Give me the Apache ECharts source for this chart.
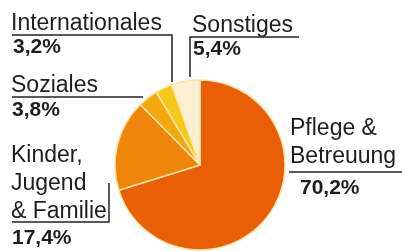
<!DOCTYPE html>
<html>
<head>
<meta charset="utf-8">
<script src="https://cdn.jsdelivr.net/npm/echarts@6/dist/echarts.min.js"></script>
<style>
html,body{margin:0;padding:0;background:#fff;}
#pie{width:402px;height:251px;}
</style>
</head>
<body>
<div id="pie"></div>
<script>
// Anteile nach Bereich (Prozent)
var names = ['Pflege &\nBetreuung', 'Kinder,\nJugend\n& Familie', 'Soziales', 'Internationales', 'Sonstiges'];
var values = [70.2, 17.4, 3.8, 3.2, 5.4];
var colors = ['#ea5f05', '#f0850b', '#f3a80e', '#f6c819', '#fdf0d2'];

// Lage der Beschriftungen (x, y = oben links), Abstand zur Prozentzeile, Einzug, Linie
var labelPos = [
    {x: 290, y: 115, gap: 35, indent: 10, line: [[289, 172], [345, 172], [402, 172]]},
    {x: 11, y: 142, gap: 25, indent: 1, line: [[109, 183], [109, 222], [12, 222]]},
    {x: 11, y: 72, gap: 21, indent: 1, line: [[143, 97], [78, 97], [12, 97]]},
    {x: 11, y: 10, gap: 19, indent: 2, line: [[12, 35], [172, 35], [172, 82]]},
    {x: 192, y: 12, gap: 19, indent: 1, line: [[299, 37], [190, 37], [190, 77]]}
];

function fmt(v){
    return v.toFixed(1).replace('.', ',') + '%';
}

var pieData = [];
for (var i = 0; i < values.length; i++) {
    pieData.push({
        name: names[i],
        value: values[i],
        itemStyle: {color: colors[i]},
        label: {
            rich: {
                n: {fontFamily: 'Liberation Sans', fontSize: 23, lineHeight: 28, color: '#1e1e1e'},
                p: {fontFamily: 'Liberation Sans', fontSize: 21, fontWeight: 'bold', color: '#1e1e1e',
                    lineHeight: labelPos[i].gap, padding: [0, 0, 0, labelPos[i].indent]}
            }
        }
    });
}

var pie = echarts.init(document.getElementById('pie'));
var option = {
    animation: false,
    series: [{
        type: 'pie',
        center: [200, 165],
        radius: 85,
        startAngle: 90,
        clockwise: true,
        data: pieData,
        itemStyle: {
            borderColor: '#fbe6a8',
            borderWidth: 1.5
        },
        label: {
            show: true,
            overflow: 'none',
            width: 200,
            formatter: function (p) {
                var lines = p.name.split('\n');
                var s = '';
                for (var k = 0; k < lines.length; k++) {
                    s += '{n|' + lines[k] + '}\n';
                }
                return s + '{p|' + fmt(p.value) + '}';
            }
        },
        labelLine: {
            show: true,
            smooth: false,
            lineStyle: {color: '#222', width: 1.5}
        },
        labelLayout: function (params) {
            var lp = labelPos[params.dataIndex];
            return {
                x: lp.x,
                y: lp.y,
                align: 'left',
                verticalAlign: 'top',
                labelLinePoints: lp.line,
                hideOverlap: false,
                moveOverlap: false
            };
        },
        emphasis: {disabled: true}
    }]
};
pie.setOption(option, true);
</script>
</body>
</html>
